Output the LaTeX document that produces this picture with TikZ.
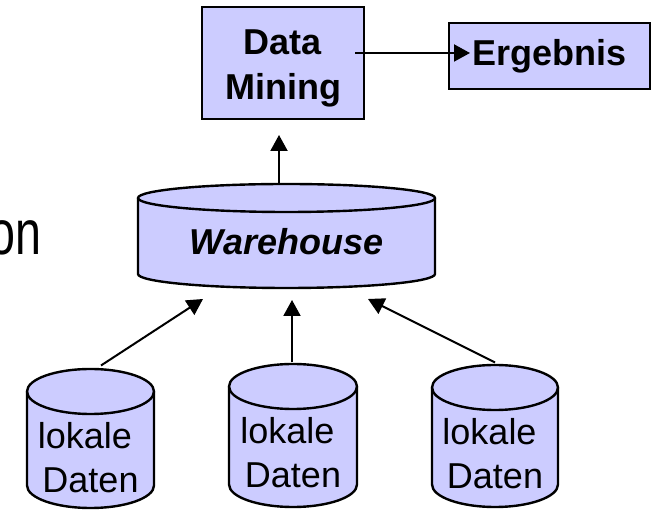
\documentclass[tikz,border=0pt]{standalone}
\usepackage{fontspec}
\setmainfont{Liberation Sans}
\usetikzlibrary{arrows.meta,calc}
\definecolor{dbfill}{RGB}{204,204,255}

% database cylinder: name, cx, top centre y, bottom centre y, rx, ry, text, text y
\newcommand\dbcyl[8]{%
  \fill[dbfill] ({#2-#5},#3) -- ({#2-#5},#4)
     arc[start angle=180,end angle=360,x radius=#5,y radius=#6]
     -- ({#2+#5},#3)
     arc[start angle=0,end angle=180,x radius=#5,y radius=#6] -- cycle;
  \draw[cylline] ({#2-#5},#3) -- ({#2-#5},#4)
     arc[start angle=180,end angle=360,x radius=#5,y radius=#6]
     -- ({#2+#5},#3);
  \draw[cylline] (#2,#3) ellipse[x radius=#5,y radius=#6];
  \node[slot, minimum width={2*#5pt}, minimum height={(#3-#4+2*#6)*1pt}]
     (#1) at (#2,{(#3+#4)/2}) {};
  \node[cyltext] (#1-text) at (#2,#8) {#7};
}

\tikzset{
  cylline/.style={draw=black, line width=2.4pt, line join=round},
  slot/.style={inner sep=0pt, outer sep=0pt},
  cyltext/.style={inner sep=0pt, align=center, font=\fontsize{36}{44}\selectfont},
  boxnode/.style={draw=black, fill=dbfill, line width=2.4pt, inner sep=0pt, outer sep=0pt},
  boxtext/.style={inner sep=0pt, align=center, font=\fontsize{36}{45}\selectfont\bfseries},
  arr/.style={line width=2pt, -{Triangle[length=16pt,width=17pt]}}
}

\begin{document}
\begin{tikzpicture}[x=1pt,y=1pt]
  \useasboundingbox (0,0) rectangle (660,510);
  \clip (0,0) rectangle (660,510);

  % word fragment on the left edge
  \node[anchor=base east, inner sep=0pt, xscale=0.74,
        font=\fontsize{63}{72}\selectfont] (frag) at (42,255) {on};

  % boxes at the top
  \node[boxnode, minimum width=162pt, minimum height=112pt] (dm) at (283,447) {};
  \node[boxtext] (dm-text) at (283,441.5) {Data\\Mining};
  \node[boxnode, boxtext, minimum width=201pt, minimum height=66pt] (erg) at (549.5,454) {Ergebnis};

  % central warehouse
  \dbcyl{wh}{286.5}{312}{236}{148.5}{14}{\bfseries\itshape Warehouse}{268}

  % local databases
  \dbcyl{lok1}{90.5}{118.5}{24.5}{63.5}{22.5}{lokale\hspace*{11pt}\\Daten}{52}
  \dbcyl{lok2}{293}{123.5}{25.5}{64}{22.5}{lokale\hspace*{11pt}\\Daten}{57}
  \dbcyl{lok3}{495}{122.5}{25.5}{63}{22.5}{lokale\hspace*{11pt}\\Daten}{56}

  % connectors
  \draw[arr] ([xshift=-9pt,yshift=10pt]dm.east) -- ([xshift=21pt,yshift=3pt]erg.west);
  \draw[arr] ([xshift=-7.5pt]wh.north) -- ([xshift=-4pt,yshift=-16pt]dm.south);
  \draw[arr] ([xshift=10.5pt,yshift=3.5pt]lok1.north) -- ([xshift=-83.5pt,yshift=-11pt]wh.south);
  \draw[arr] ([xshift=-1pt,yshift=1.5pt]lok2.north) -- ([xshift=5.5pt,yshift=-12pt]wh.south);
  \draw[arr] ([yshift=2.5pt]lok3.north) -- ([xshift=81.5pt,yshift=-11pt]wh.south);
\end{tikzpicture}
\end{document}
